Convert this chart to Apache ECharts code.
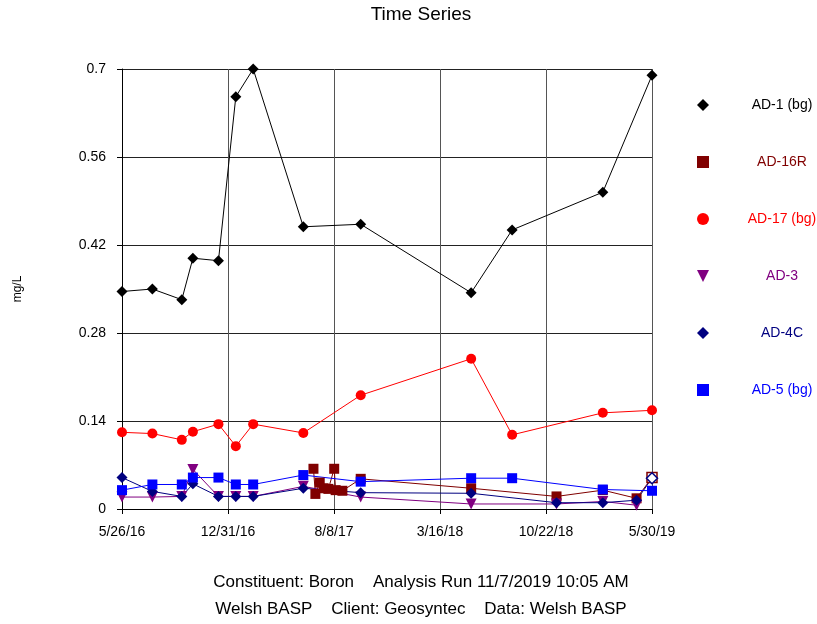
<!DOCTYPE html>
<html>
<head>
<meta charset="utf-8">
<script src="https://cdn.jsdelivr.net/npm/echarts@6/dist/echarts.min.js"></script>
<style>
html, body { margin: 0; padding: 0; background: #fff; }
#chart { width: 817px; height: 624px; }
</style>
</head>
<body>
<div id="chart"></div>
<script>
// axis range (dates shown as ticks, evenly spaced)
const startDate = '2016-05-26'
const endDate = '2019-05-30'
const yTicks = [0, 0.14, 0.28, 0.42, 0.56, 0.7]

const seriesNames = ['AD-1 (bg)', 'AD-16R', 'AD-17 (bg)', 'AD-3', 'AD-4C', 'AD-5 (bg)']

// AD-1 (bg)
const ad1Dates = ['2016-05-26', '2016-07-28', '2016-09-27', '2016-10-20', '2016-12-12', '2017-01-17', '2017-02-22', '2017-06-06', '2017-10-03', '2018-05-20', '2018-08-13', '2019-02-17', '2019-05-30']
const ad1Values = [0.346, 0.350, 0.333, 0.399, 0.395, 0.656, 0.700, 0.449, 0.453, 0.344, 0.444, 0.504, 0.690]

// AD-16R
const ad16rDates = ['2017-06-27', '2017-07-01', '2017-07-10', '2017-07-18', '2017-07-28', '2017-08-09', '2017-08-12', '2017-08-26', '2017-10-03', '2018-05-20', '2018-11-13', '2019-02-17', '2019-04-28', '2019-05-30']
const ad16rValues = [0.064, 0.024, 0.042, 0.033, 0.032, 0.064, 0.030, 0.029, 0.048, 0.033, 0.020, 0.030, 0.017, 0.050]
const ad16rNonDetect = ['2019-05-30']

// AD-17 (bg)
const ad17Dates = ['2016-05-26', '2016-07-28', '2016-09-27', '2016-10-20', '2016-12-12', '2017-01-17', '2017-02-22', '2017-06-06', '2017-10-03', '2018-05-20', '2018-08-13', '2019-02-17', '2019-05-30']
const ad17Values = [0.122, 0.120, 0.110, 0.123, 0.135, 0.100, 0.135, 0.121, 0.181, 0.239, 0.118, 0.153, 0.157]

// AD-3
const ad3Dates = ['2016-05-26', '2016-07-28', '2016-09-27', '2016-10-20', '2016-12-12', '2017-01-17', '2017-02-22', '2017-06-06', '2017-10-03', '2018-05-20', '2018-11-13', '2019-02-17', '2019-04-28']
const ad3Values = [0.019, 0.019, 0.020, 0.063, 0.020, 0.020, 0.020, 0.036, 0.019, 0.008, 0.008, 0.012, 0.006]

// AD-4C
const ad4cDates = ['2016-05-26', '2016-07-28', '2016-09-27', '2016-10-20', '2016-12-12', '2017-01-17', '2017-02-22', '2017-06-06', '2017-10-03', '2018-05-20', '2018-11-13', '2019-02-17', '2019-04-28', '2019-05-30']
const ad4cValues = [0.050, 0.028, 0.020, 0.040, 0.020, 0.020, 0.020, 0.033, 0.026, 0.025, 0.010, 0.010, 0.014, 0.049]
const ad4cNonDetect = ['2019-05-30']

// AD-5 (bg)
const ad5Dates = ['2016-05-26', '2016-07-28', '2016-09-27', '2016-10-20', '2016-12-12', '2017-01-17', '2017-02-22', '2017-06-06', '2017-10-03', '2018-05-20', '2018-08-13', '2019-02-17', '2019-05-30']
const ad5Values = [0.030, 0.039, 0.039, 0.050, 0.050, 0.039, 0.039, 0.054, 0.0435, 0.049, 0.049, 0.031, 0.029]

const footer1 = 'Constituent: Boron    Analysis Run 11/7/2019 10:05 AM'
const footer2 = 'Welsh BASP    Client: Geosyntec    Data: Welsh BASP'

const font = '"Liberation Sans", Arial, sans-serif'
const colors = ['#000000', '#800000', '#ff0000', '#800080', '#000080', '#0000ff']
const triDown = 'path://M0,0L10,0L5,10Z'
const symbols = ['diamond', 'rect', 'circle', triDown, 'diamond', 'rect']
const sizes = [11, 10, 10, 11, 11, 10]

const DAY = 86400000
const toUTC = s => { const [y, m, d] = s.split('-').map(Number); return Date.UTC(y, m - 1, d) }
const t0 = toUTC(startDate)
const dayOf = s => Math.round((toUTC(s) - t0) / DAY)
const span = dayOf(endDate)

// ticks fall on fractional days; the labels show the day they fall in
const fmtDay = v => {
  const d = new Date(t0 + Math.floor(v + 1e-6) * DAY)
  return `${d.getUTCMonth() + 1}/${d.getUTCDate()}/${String(d.getUTCFullYear()).slice(2)}`
}

const makeData = (dates, values, nd, color) => dates.map((d, i) => {
  const item = { value: [dayOf(d), values[i]] }
  if (nd && nd.includes(d)) item.itemStyle = { color: '#fff', borderColor: color, borderWidth: 1.5 }
  return item
})

const all = [
  [ad1Dates, ad1Values, null],
  [ad16rDates, ad16rValues, ad16rNonDetect],
  [ad17Dates, ad17Values, null],
  [ad3Dates, ad3Values, null],
  [ad4cDates, ad4cValues, ad4cNonDetect],
  [ad5Dates, ad5Values, null]
]

const series = all.map(([d, v, nd], i) => ({
  name: seriesNames[i],
  type: 'line',
  data: makeData(d, v, nd, colors[i]),
  symbol: symbols[i],
  symbolSize: sizes[i],
  showAllSymbol: true,
  clip: false,
  color: colors[i],
  lineStyle: { width: 1, color: colors[i] },
  itemStyle: { color: colors[i] },
  emphasis: { disabled: true }
}))

const rich = {}
colors.forEach((c, i) => {
  rich['s' + i] = { color: c, width: 136, align: 'center', fontSize: 14, lineHeight: 14, fontFamily: font }
})

const chart = echarts.init(document.getElementById('chart'))
chart.setOption({
  animation: false,
  backgroundColor: '#fff',
  textStyle: { fontFamily: font },
  grid: { left: 122, right: 165, top: 69, bottom: 115, outerBoundsMode: 'none' },
  xAxis: {
    type: 'value',
    min: 0,
    max: span,
    interval: span / 5,
    axisLine: { lineStyle: { color: '#000', width: 1 } },
    axisTick: { show: true, inside: false, length: 5, lineStyle: { color: '#000' } },
    axisLabel: { formatter: fmtDay, fontSize: 14, color: '#000', margin: 16, fontFamily: font, showMinLabel: true, showMaxLabel: true },
    splitLine: { show: true, lineStyle: { color: '#555', width: 1 } }
  },
  yAxis: {
    type: 'value',
    min: yTicks[0],
    max: yTicks[yTicks.length - 1],
    interval: yTicks[1] - yTicks[0],
    name: 'mg/L',
    nameLocation: 'middle',
    nameRotate: 90,
    nameGap: 98,
    nameTextStyle: { fontSize: 12, color: '#000', fontFamily: font },
    axisLine: { show: true, lineStyle: { color: '#000', width: 1 } },
    axisTick: { show: true, inside: false, length: 5, lineStyle: { color: '#000' } },
    axisLabel: { fontSize: 14, color: '#000', margin: 16, fontFamily: font },
    splitLine: { show: true, lineStyle: { color: '#222', width: 1 } }
  },
  legend: {
    orient: 'vertical',
    left: 692,
    top: 93,
    itemWidth: 12,
    itemHeight: 12,
    itemGap: 43,
    selectedMode: false,
    data: seriesNames.map((n, i) => ({ name: n, icon: symbols[i] })),
    formatter: name => `{s${seriesNames.indexOf(name)}|${name}}`,
    textStyle: { fontSize: 14, fontFamily: font, rich }
  },
  graphic: [
    { type: 'text', x: 421, y: 15, style: { text: 'Time Series', align: 'center', verticalAlign: 'middle', fontSize: 19, fontFamily: font, fill: '#000' } },
    { type: 'text', x: 421, y: 582, style: { text: footer1, align: 'center', verticalAlign: 'middle', fontSize: 17, fontFamily: font, fill: '#000' } },
    { type: 'text', x: 421, y: 609, style: { text: footer2, align: 'center', verticalAlign: 'middle', fontSize: 17, fontFamily: font, fill: '#000' } }
  ],
  series
})
window.addEventListener('resize', () => { chart.resize() })
</script>
</body>
</html>
